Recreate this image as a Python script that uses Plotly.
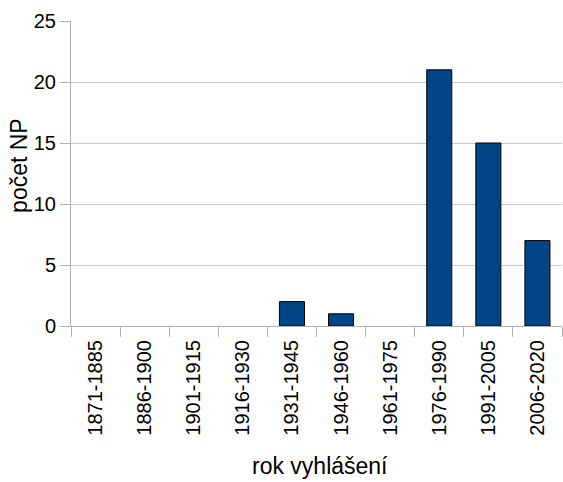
import plotly.graph_objects as go

categories = ["1871-1885", "1886-1900", "1901-1915", "1916-1930", "1931-1945",
              "1946-1960", "1961-1975", "1976-1990", "1991-2005", "2006-2020"]
counts = [0, 0, 0, 0, 2, 1, 0, 21, 15, 7]
y_ticks = [0, 5, 10, 15, 20, 25]

fig = go.Figure(go.Bar(
    x=categories, y=counts,
    marker=dict(color="#004586",
                line=dict(color="#000000", width=[1 if v else 0 for v in counts])),
))

font_family = "Liberation Sans, Arial, sans-serif"
fig.update_layout(
    width=563, height=482,
    margin=dict(l=71, r=1, t=21, b=156),
    plot_bgcolor="white", paper_bgcolor="white",
    bargap=0.49,
    showlegend=False,
    font=dict(family=font_family, color="#000000", size=20),
    annotations=[
        dict(text="rok vyhlášení", xref="paper", yref="paper", x=0.508, y=-0.458,
             yanchor="middle", xanchor="center", showarrow=False, font=dict(size=23)),
        dict(text="počet NP", xref="paper", yref="paper", x=-0.106, y=0.528,
             xanchor="center", yanchor="middle", textangle=-90, showarrow=False,
             font=dict(size=23)),
    ],
)
fig.update_xaxes(
    type="category", tickangle=-90, tickson="boundaries",
    ticks="outside", ticklen=10, tickcolor="#b3b3b3",
    showline=True, linecolor="#b3b3b3", linewidth=1,
    tickfont=dict(size=20), automargin=False, ticklabelstandoff=5,
    showgrid=False,
)
fig.update_yaxes(
    range=[0, 25], tickvals=y_ticks,
    ticks="outside", ticklen=10, tickcolor="#b3b3b3",
    showline=True, linecolor="#b3b3b3", linewidth=1,
    showgrid=True, gridcolor="#c8c8c8", gridwidth=1,
    zeroline=False, automargin=False,
    tickfont=dict(size=20),
)
fig.write_html("out.html", config={"displayModeBar": False},
               post_script="document.body.style.margin='0';document.body.style.padding='0';")
